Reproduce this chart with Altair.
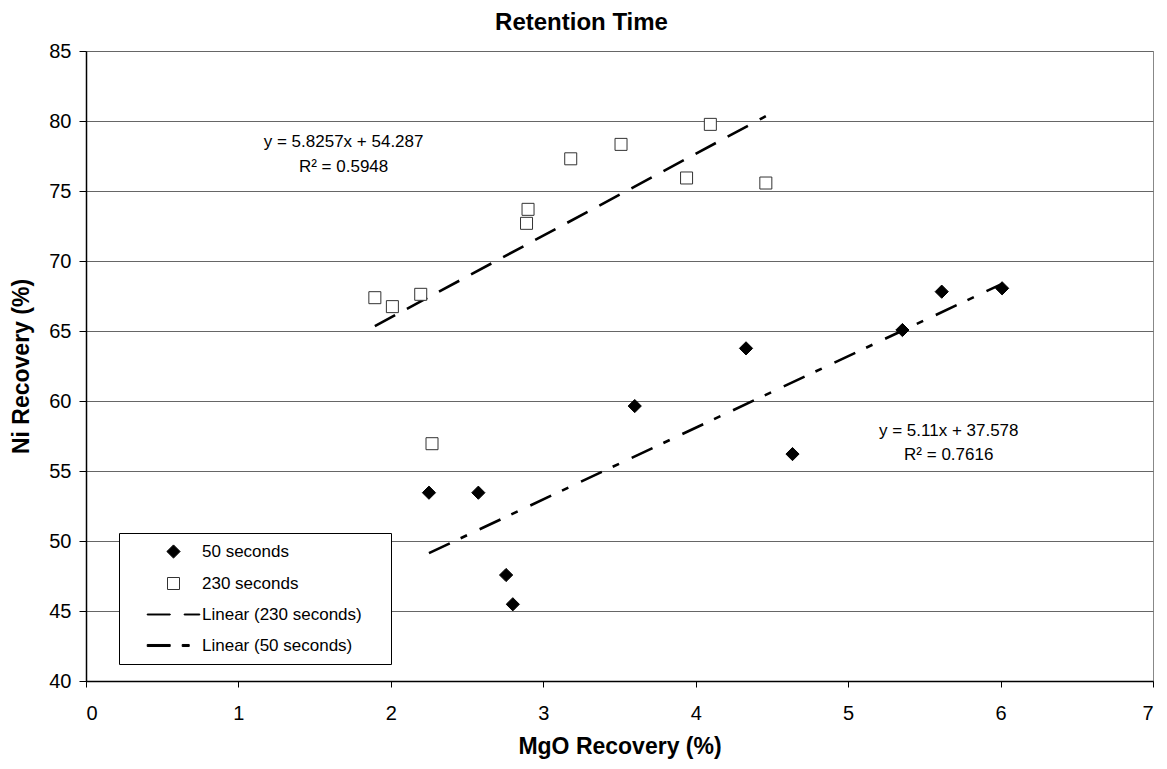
import altair as alt
import pandas as pd

# ---- data ----
x50 = [2.25, 2.574, 2.756, 2.80, 3.60, 4.33, 4.635, 5.356, 5.614, 6.01]
y50 = [53.45, 53.45, 47.57, 45.48, 59.64, 63.76, 56.21, 65.07, 67.81, 68.05]
x230 = [1.895, 2.01, 2.196, 2.27, 2.89, 2.90, 3.18, 3.51, 3.94, 4.096, 4.46]
y230 = [67.38, 66.74, 67.62, 56.95, 72.69, 73.69, 77.3, 78.33, 75.93, 79.76, 75.57]

series_names = ["50 seconds", "230 seconds", "Linear (230 seconds)", "Linear (50 seconds)"]

eq_text = ["y = 5.8257x + 54.287", "R\u00b2 = 0.5948", "y = 5.11x + 37.578", "R\u00b2 = 0.7616"]
eq_x = [1.69, 1.69, 5.66, 5.66]
eq_y = [78.52, 76.74, 57.88, 56.14]

x_ticks = [0, 1, 2, 3, 4, 5, 6, 7]
y_ticks = [40, 45, 50, 55, 60, 65, 70, 75, 80, 85]

# ---- tables ----
pts = pd.DataFrame({
    "x": x50 + x230,
    "y": y50 + y230,
    "series": [series_names[0]] * len(x50) + [series_names[1]] * len(x230),
})
eqs = pd.DataFrame({"x": eq_x, "y": eq_y, "t": eq_text})

FONT = "Liberation Sans"

# legend / point symbols (custom paths are scaled by sqrt(size)/2)
diamond = "M0,-1.1L1.1,0L0,1.1L-1.1,0Z"
dash230 = "M-4.38,-0.08H-0.55V0.08H-4.38Z M1.78,-0.08H4.38V0.08H1.78Z"
dash50 = "M-4.38,-0.17H-0.55V0.17H-4.38Z M1.45,-0.17H2.62V0.17H1.45Z"

xs = alt.Scale(domain=[0, 7], nice=False, zero=False)
ys = alt.Scale(domain=[40, 85], nice=False, zero=False)

AX = dict(labelFont=FONT, labelFontSize=20, labelColor="black", titleFont=FONT,
          titleFontSize=23, titleFontWeight="bold", titleColor="black", domainWidth=1.5,
          domainColor="black", tickColor="black")

X = alt.X("x:Q", scale=xs, title="MgO Recovery (%)",
          axis=alt.Axis(values=x_ticks, grid=False, tickSize=6, labelPadding=16,
                        titlePadding=12, **AX))
Y = alt.Y("y:Q", scale=ys, title="Ni Recovery (%)",
          axis=alt.Axis(values=y_ticks, grid=True, gridColor="#666", tickSize=7,
                        labelPadding=8, titlePadding=15, **AX))

PAD = "    \u200b"
LEG = alt.Legend(title=None, orient="none", legendX=33, legendY=482,
                 symbolSize=144, symbolOffset=36, labelOffset=20,
                 rowPadding=13, padding=10, strokeColor="black",
                 fillColor="white", labelFont=FONT, labelFontSize=17,
                 labelColor="black", symbolStrokeWidth=1, labelLimit=400,
                 labelExpr="datum.label + '" + PAD + "'")

base = alt.Chart(pts)

points = base.mark_point(opacity=1, strokeWidth=1, size=144).encode(
    x=X, y=Y,
    shape=alt.Shape("series:N", scale=alt.Scale(domain=series_names,
                    range=[diamond, "square", dash230, dash50]), legend=LEG),
    fill=alt.Fill("series:N", scale=alt.Scale(domain=series_names,
                  range=["black", "white", "black", "black"]), legend=LEG),
    stroke=alt.Stroke("series:N", scale=alt.Scale(domain=series_names,
                      range=["black", "#333", "black", "black"]), legend=LEG),
)

line230 = base.transform_filter(alt.datum.series == series_names[1]).transform_regression(
    "x", "y").mark_line(color="black", strokeWidth=2.6, strokeDash=[23, 13.4]).encode(x=X, y=Y)
line50 = base.transform_filter(alt.datum.series == series_names[0]).transform_regression(
    "x", "y").mark_line(color="black", strokeWidth=2.6, strokeDash=[23, 12, 7, 14]).encode(x=X, y=Y)

texts = alt.Chart(eqs).mark_text(font=FONT, fontSize=17, color="black", align="center",
                                 baseline="middle").encode(x=X, y=Y, text="t:N")

chart = alt.layer(line230, line50, points, texts).properties(
    width=1067, height=630,
    title=alt.TitleParams("Retention Time", font=FONT, fontSize=24, fontWeight="bold",
                          color="black", anchor="middle", dx=-38, offset=6),
    autosize=alt.AutoSizeParams(type="none"),
    padding={"left": 78, "top": 43, "right": 6, "bottom": 80},
    background="white",
).configure_view(stroke="#888", strokeWidth=1)

chart.save("out.html", embed_options={"renderer": "svg", "actions": False})
